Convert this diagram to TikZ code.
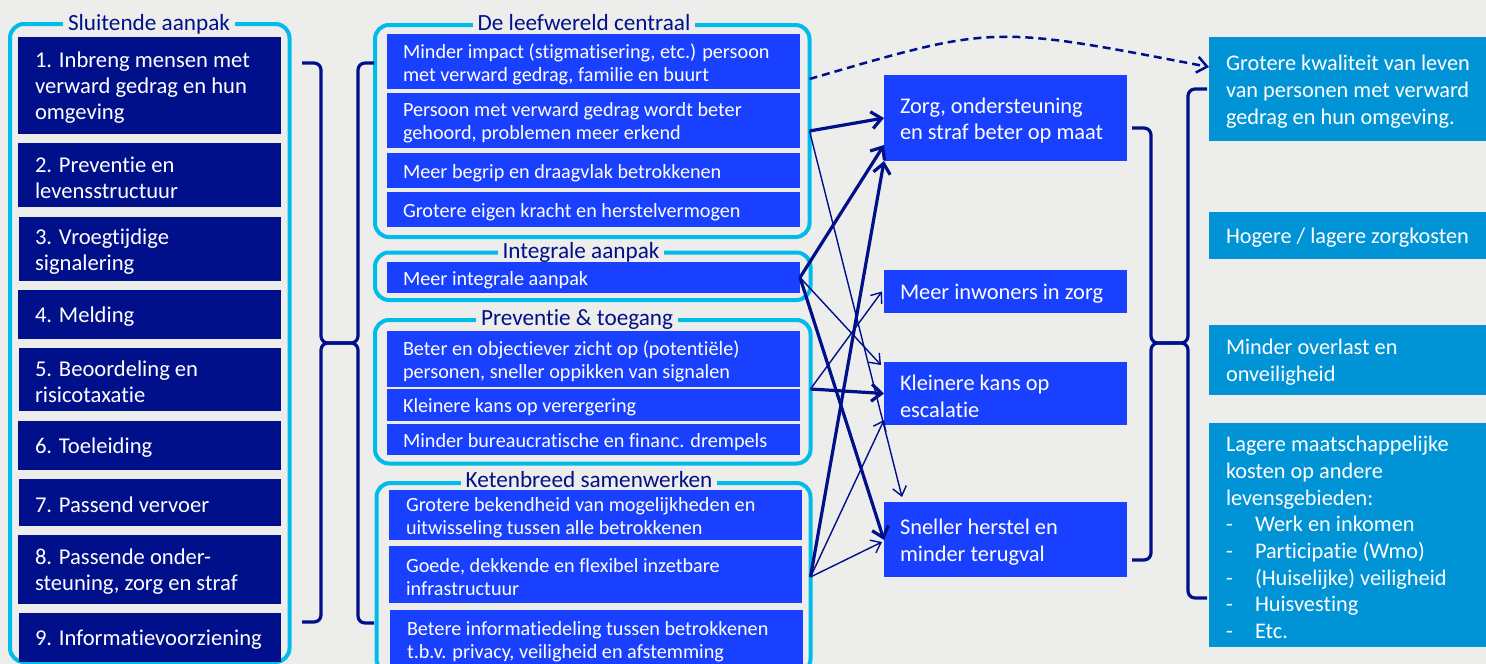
\documentclass[tikz,border=0pt]{standalone}
\usepackage{fontspec}
\setmainfont{Carlito}[Ligatures=NoCommon]
\usetikzlibrary{arrows.meta,calc}
\definecolor{bg}{RGB}{237,237,235}
\definecolor{navy}{RGB}{0,16,138}
\definecolor{cyanl}{RGB}{0,188,235}
\definecolor{brblue}{RGB}{26,64,255}
\definecolor{rblue}{RGB}{0,148,215}
% name, style, x1, y1, x2, y2, xsep, text
\newcommand\BX[8]{%
  \node[#2, anchor=north west, minimum width=#5-#3, minimum height=#6-#4] (#1) at (#3,#4) {};
  \node[#2txt, anchor=west] (#1-t) at ([xshift=#7,yshift=-2.5pt]#1.west) {#8};
}
\begin{document}
\begin{tikzpicture}[x=1pt,y=-1pt,
  every node/.style={outer sep=0pt},
  lbox/.style={fill=navy, inner sep=0pt},
  lboxtxt/.style={text=white, align=left, inner sep=0pt, font=\fontsize{22.6}{26}\selectfont},
  mbox/.style={fill=brblue, inner sep=0pt},
  mboxtxt/.style={text=white, align=left, inner sep=0pt, font=\fontsize{20.2}{23.3}\selectfont},
  obox/.style={fill=brblue, inner sep=0pt},
  oboxtxt/.style={text=white, align=left, inner sep=0pt, font=\fontsize{22.4}{26.7}\selectfont},
  rbox/.style={fill=rblue, inner sep=0pt},
  rboxtxt/.style={text=white, align=left, inner sep=0pt, font=\fontsize{22.3}{26.7}\selectfont},
  grp/.style={draw=cyanl, line width=4pt, rounded corners=14pt, anchor=north west, inner sep=0pt},
  ttl/.style={fill=bg, text=navy, inner xsep=5pt, inner ysep=0pt, text depth=0pt, anchor=base, font=\fontsize{23.2}{26}\selectfont},
  brk/.style={draw=navy, line width=3.2pt, rounded corners=7pt},
  thk/.style={draw=navy, line width=3.2pt, -{Straight Barb[length=10pt,width=17pt]}},
  thn/.style={draw=navy, line width=1.4pt, -{Straight Barb[length=9pt,width=14pt]}},
  dsh/.style={draw=navy, line width=2.5pt, dash pattern=on 8pt off 5pt, -{Straight Barb[length=10pt,width=16pt]}},
]
\fill[bg] (0,0) rectangle (1486,664);
\useasboundingbox (0,0) rectangle (1486,664);
\clip (0,0) rectangle (1486,664);

% group outlines
\node[grp, minimum width=279.5, minimum height=638] (g0) at (10,24) {};
\node[grp, minimum width=434.5, minimum height=212] (g1) at (375,25) {};
\node[grp, minimum width=435.5, minimum height=47.5] (g2) at (375,252.5) {};
\node[grp, minimum width=435.5, minimum height=143.5] (g3) at (375,320) {};
\node[grp, minimum width=434, minimum height=190] (g4) at (376.5,483) {};

% left column
\BX{l1}{lbox}{18}{37}{281}{134}{17}{1. Inbreng mensen met\\verward gedrag en hun\\omgeving}
\BX{l2}{lbox}{18}{143}{281}{207}{17}{2. Preventie en\\levensstructuur}
\BX{l3}{lbox}{19}{217}{281}{281}{16}{3. Vroegtijdige\\signalering}
\BX{l4}{lbox}{18}{290}{281}{339}{17}{4. Melding}
\BX{l5}{lbox}{19}{348}{281}{411}{16}{5. Beoordeling en\\risicotaxatie}
\BX{l6}{lbox}{18}{421}{281}{470}{17}{6. Toeleiding}
\BX{l7}{lbox}{19}{479}{281}{526}{16}{7. Passend vervoer}
\BX{l8}{lbox}{18}{535}{281}{604}{17}{8. Passende onder-\\steuning, zorg en straf}
\BX{l9}{lbox}{19}{613}{281}{662}{16}{9. Informatievoorziening}

% middle column
\BX{ma}{mbox}{387}{34}{800}{89}{16}{Minder impact (stigmatisering, etc.) persoon\\met verward gedrag, familie en buurt}
\BX{mb}{mbox}{387}{93}{800}{148}{16}{Persoon met verward gedrag wordt beter\\gehoord, problemen meer erkend}
\BX{mc}{mbox}{387}{153}{800}{188}{16}{Meer begrip en draagvlak betrokkenen}
\BX{md}{mbox}{387}{192}{800}{227}{16}{Grotere eigen kracht en herstelvermogen}
\BX{mi}{mbox}{387}{262}{800}{293}{16}{Meer integrale aanpak}
\BX{pa}{mbox}{387}{331}{800}{387}{16}{Beter en objectiever zicht op (potentiële)\\personen, sneller oppikken van signalen}
\BX{pb}{mbox}{387}{389}{800}{421}{16}{Kleinere kans op verergering}
\BX{pc}{mbox}{387}{424}{800}{455}{16}{Minder bureaucratische en financ. drempels}
\BX{ka}{mbox}{389}{490}{802}{540}{17}{Grotere bekendheid van mogelijkheden en\\uitwisseling tussen alle betrokkenen}
\BX{kb}{mbox}{389}{546}{802}{603}{17}{Goede, dekkende en flexibel inzetbare\\infrastructuur}
\BX{kc}{mbox}{390}{610}{803}{668}{17}{Betere informatiedeling tussen betrokkenen\\t.b.v. privacy, veiligheid en afstemming}

% titles
\node[ttl] (t0) at (149,30.5) {Sluitende aanpak};
\node[ttl] (t1) at (584,30) {De leefwereld centraal};
\node[ttl] (t2) at (581,258) {Integrale aanpak};
\node[ttl] (t3) at (577,325) {Preventie \& toegang};
\node[ttl] (t4) at (589,487) {Ketenbreed samenwerken};

% outcome column
\BX{oz}{obox}{884}{75}{1127}{161}{16}{Zorg, ondersteuning\\en straf beter op maat}
\BX{oi}{obox}{884}{270}{1127}{313}{16}{Meer inwoners in zorg}
\BX{ok}{obox}{884}{362}{1127}{425}{16}{Kleinere kans op\\escalatie}
\BX{os}{obox}{884}{502}{1127}{577}{16}{Sneller herstel en\\minder terugval}

% right column
\BX{r1}{rbox}{1209}{37}{1490}{141}{17}{Grotere kwaliteit van leven\\van personen met verward\\gedrag en hun omgeving.}
\BX{r2}{rbox}{1209}{212}{1490}{259}{17}{Hogere / lagere zorgkosten}
\BX{r3}{rbox}{1209}{325}{1490}{395}{17}{Minder overlast en\\onveiligheid}
\BX{r4}{rbox}{1209}{423}{1490}{647}{17}{Lagere maatschappelijke\\kosten op andere\\levensgebieden:\\\makebox[29pt][l]{-}Werk en inkomen\\\makebox[29pt][l]{-}Participatie (Wmo)\\\makebox[29pt][l]{-}(Huiselijke) veiligheid\\\makebox[29pt][l]{-}Huisvesting\\\makebox[29pt][l]{-}Etc.}

% brackets left
\draw[brk] (302,63) -- (321,63) -- (321,343) -- (340,343);
\draw[brk] (302,622) -- (321,622) -- (321,343) -- (340,343);
\draw[brk] (374,63) -- (358,63) -- (358,343) -- (340,343);
\draw[brk] (374,623) -- (358,623) -- (358,343) -- (340,343);
% brackets right
\draw[brk] (1132,128) -- (1151,128) -- (1151,343) -- (1170,343);
\draw[brk] (1132,560) -- (1151,560) -- (1151,343) -- (1170,343);
\draw[brk] (1207,89) -- (1188,89) -- (1188,343) -- (1169,343);
\draw[brk] (1207,598) -- (1188,598) -- (1188,343) -- (1169,343);

% connectors
\draw[thk] ([yshift=-106pt]g1.north east) -- (oz.west);
\draw[thn] ([yshift=-106pt]g1.north east) -- ([xshift=18pt,yshift=5pt]os.north west);
\draw[thk] (mi.east) -- ([yshift=-27pt]oz.west);
\draw[thn] (mi.east) -- ([xshift=-3pt,yshift=-3pt]ok.north west);
\draw[thk] (mi.east) -- ([yshift=-38pt]os.north west);
\draw[thn] ([yshift=-69pt]g3.north east) -- ([xshift=-2pt]oi.west);
\draw[thk] ([yshift=-69pt]g3.north east) -- (ok.west);
\draw[thk] ([yshift=-94pt]g4.north east) -- (oz.south west);
\draw[thn] ([yshift=-94pt]g4.north east) -- ([yshift=5pt]ok.south west);
\draw[thn] ([yshift=-94pt]g4.north east) -- ([xshift=-2pt,yshift=-40pt]os.north west);
\draw[dsh] ([yshift=-54pt]g1.north east) .. controls (995,25) and (990,25) .. ([yshift=-30pt]r1.north west);
\end{tikzpicture}
\end{document}
